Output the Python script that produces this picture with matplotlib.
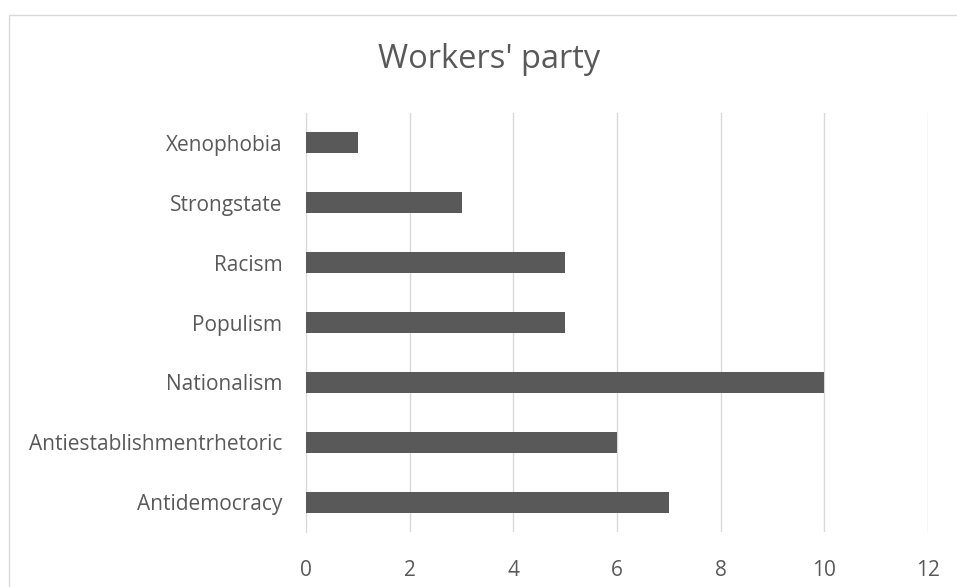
import matplotlib.pyplot as plt
from matplotlib.patches import Rectangle

categories = ['Antidemocracy', 'Antiestablishmentrhetoric', 'Nationalism',
              'Populism', 'Racism', 'Strongstate', 'Xenophobia']
values = [7, 6, 10, 5, 5, 3, 1]
xticks = [0, 2, 4, 6, 8, 10, 12]

plt.rcParams['font.family'] = ['Open Sans', 'DejaVu Sans']
txt = '#595959'

fig = plt.figure(figsize=(9.57, 5.87), dpi=100)
W, H = 957, 587
ax = fig.add_axes([306 / W, 1 - 532 / H, (928 - 306) / W, (532 - 113) / H])

ax.barh(range(len(categories)), values, height=0.35, color='#595959', zorder=3)
ax.set_xlim(0, 12)
ax.set_ylim(-0.5, len(categories) - 0.5)
ax.set_xticks(xticks)
ax.set_xticklabels([str(t) for t in xticks])
ax.set_yticks(range(len(categories)))
ax.set_yticklabels(categories)
ax.grid(axis='x', color='#d9d9d9', linewidth=1, zorder=0)
for s in ax.spines.values():
    s.set_visible(False)
ax.spines['left'].set_visible(True)
ax.spines['left'].set_color('#d9d9d9')
ax.tick_params(axis='both', length=0, labelsize=15, labelcolor=txt)
ax.tick_params(axis='x', pad=20)
ax.tick_params(axis='y', pad=17)

fig.text(489 / W, 1 - 68 / H, "Workers' party", ha='center', va='baseline',
         fontsize=23.5, color=txt)

fig.patches.append(Rectangle((9 / W, -0.1), 1.2, 1 - 15 / H + 0.1,
                             transform=fig.transFigure, fill=False,
                             edgecolor='#d9d9d9', linewidth=1))

fig.savefig('out.png', dpi=100)
